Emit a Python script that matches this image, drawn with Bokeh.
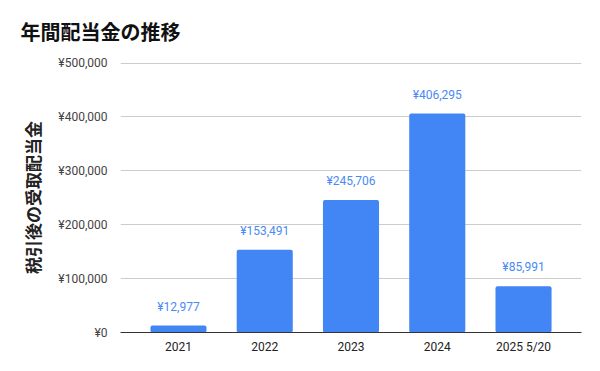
from bokeh.plotting import figure
from bokeh.models import ColumnDataSource, FactorRange, Range1d, FixedTicker, LabelSet
from bokeh.core.properties import value
from bokeh.embed import file_html
from bokeh.resources import INLINE

categories = ["2021", "2022", "2023", "2024", "2025 5/20"]
dividends = [12977, 153491, 245706, 406295, 85991]
y_ticks = [0, 100000, 200000, 300000, 400000, 500000]
y_tick_labels = ["¥0", "¥100,000", "¥200,000", "¥300,000", "¥400,000", "¥500,000"]
title_text = "年間配当金の推移"
y_label_text = "税引後の受取配当金"

src = ColumnDataSource(dict(
    cat=categories,
    val=dividends,
    lbl=[f"¥{v:,}" for v in dividends],
))

p = figure(
    width=584, height=363,
    x_range=FactorRange(*categories, range_padding=0.172, range_padding_units="absolute"),
    y_range=Range1d(0, 501000),
    output_backend="svg", toolbar_location=None,
    min_border_left=120, min_border_right=3, min_border_top=62, min_border_bottom=31,
    title=title_text,
)
p.outline_line_color = None
p.background_fill_color = "white"
p.border_fill_color = "white"

p.title.text_font = "Noto Sans CJK JP"
p.title.text_font_style = "bold"
p.title.text_font_size = "20px"
p.title.text_color = "#111111"
p.title.align = "left"
p.title.vertical_align = "top"
p.title.offset = -100
p.title.standoff = 30

p.vbar(x="cat", top="val", width=0.65, source=src, fill_color="#4285F4",
       line_color=None, border_radius=2)

p.add_layout(LabelSet(x="cat", y="val", text="lbl", source=src,
                      text_align="center", text_baseline="middle", y_offset=19,
                      text_font=value("Roboto"), text_font_size=value("12px"),
                      text_color="#4a8af4"))

# y axis
p.yaxis.ticker = FixedTicker(ticks=y_ticks)
p.yaxis.major_label_overrides = {t: l for t, l in zip(y_ticks, y_tick_labels)}
p.yaxis.axis_line_color = None
p.yaxis.major_tick_line_color = None
p.yaxis.minor_tick_line_color = None
p.yaxis.major_label_standoff = 7
p.yaxis.major_label_text_font = "Roboto"
p.yaxis.major_label_text_font_size = "12px"
p.yaxis.major_label_text_color = "#444444"
p.yaxis.axis_label = y_label_text
p.yaxis.axis_label_text_font = "Noto Sans CJK JP"
p.yaxis.axis_label_text_font_style = "bold"
p.yaxis.axis_label_text_font_size = "17px"
p.yaxis.axis_label_text_color = "#222222"
p.yaxis.axis_label_standoff = 10

# x axis
p.xaxis.axis_line_color = "#333333"
p.xaxis.axis_line_width = 1
p.xaxis.major_tick_line_color = None
p.xaxis.minor_tick_line_color = None
p.xaxis.major_label_standoff = 1
p.xaxis.major_label_text_font = "Roboto"
p.xaxis.major_label_text_font_size = "12px"
p.xaxis.major_label_text_color = "#222222"

p.xgrid.grid_line_color = None
p.ygrid.grid_line_color = "#cccccc"
p.ygrid.grid_line_width = 1

open("out.html", "w").write(file_html(p, INLINE))
